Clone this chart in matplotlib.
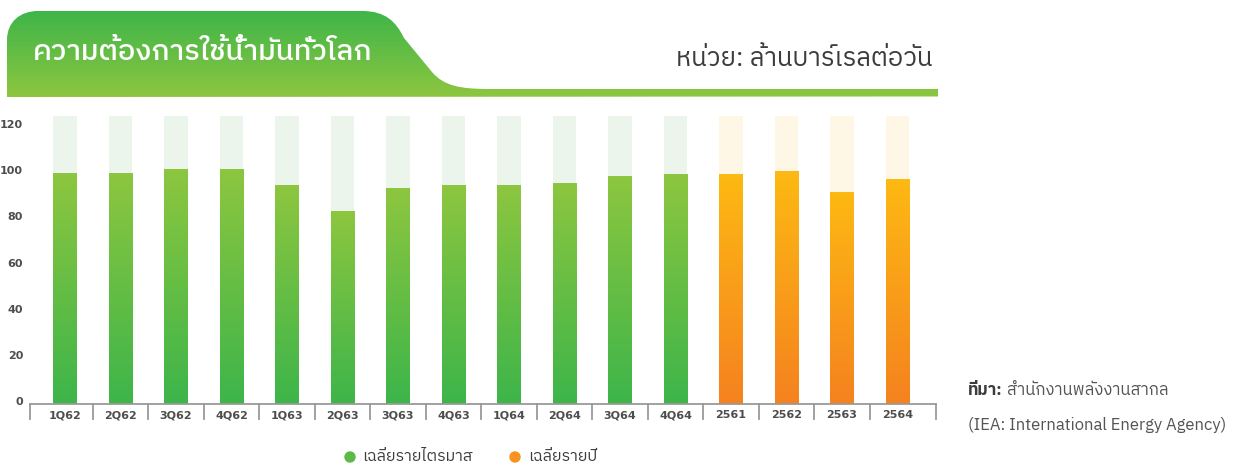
import matplotlib
matplotlib.use('Agg')
import matplotlib.pyplot as plt
import numpy as np
from matplotlib.path import Path
from matplotlib.patches import PathPatch, Circle
from matplotlib.colors import LinearSegmentedColormap
import matplotlib.transforms as mtransforms

# ---------------- data ----------------
quarter_labels = ['1Q62', '2Q62', '3Q62', '4Q62', '1Q63', '2Q63', '3Q63', '4Q63',
                  '1Q64', '2Q64', '3Q64', '4Q64']
quarter_values = [99.9, 99.9, 101.6, 101.6, 94.8, 83.5, 93.5, 94.8,
                  94.8, 95.7, 98.7, 99.5]
year_labels = ['2561', '2562', '2563', '2564']
year_values = [99.5, 100.8, 91.8, 97.3]
y_ticks = [0, 20, 40, 60, 80, 100, 120]
background_value = 124.6

title_text = 'ความต้องการใช้น้ำมันทั่วโลก'
unit_text = 'หน่วย: ล้านบาร์เรลต่อวัน'
source_bold = 'ที่มา:'
source_text = ' สำนักงานพลังงานสากล'
source_text2 = '(IEA: International Energy Agency)'
legend_labels = ['เฉลี่ยรายไตรมาส', 'เฉลี่ยรายปี']

FAM = ['IBM Plex Sans Thai', 'Noto Sans Thai', 'DejaVu Sans']

W, H = 1236, 465
fig = plt.figure(figsize=(W / 100, H / 100), dpi=100)

# overlay axes in pixel coordinates
ov = fig.add_axes([0, 0, 1, 1], zorder=0)
ov.set_xlim(0, W)
ov.set_ylim(H, 0)
ov.axis('off')

# banner shape
verts = [(7, 97), (7, 40), (7, 22), (20, 11), (38, 11), (362, 11),
         (386, 11), (396, 22), (404, 38), (432, 72),
         (444, 86), (460, 89), (490, 89), (938, 89), (938, 96.5), (7, 97), (7, 97)]
codes = [Path.MOVETO, Path.LINETO, Path.CURVE4, Path.CURVE4, Path.CURVE4, Path.LINETO,
         Path.CURVE4, Path.CURVE4, Path.CURVE4, Path.LINETO,
         Path.CURVE4, Path.CURVE4, Path.CURVE4, Path.LINETO, Path.LINETO, Path.LINETO,
         Path.CLOSEPOLY]
banner = PathPatch(Path(verts, codes), facecolor='none', edgecolor='none')
ov.add_patch(banner)
bcmap = LinearSegmentedColormap.from_list('b', ['#3db54a', '#8dc63f'])
grad = np.linspace(0, 1, 256).reshape(-1, 1)
im = ov.imshow(grad, cmap=bcmap, extent=[7, 938, 97, 11], origin='upper',
               aspect='auto', interpolation='bilinear')
im.set_clip_path(banner)
ov.set_xlim(0, W)
ov.set_ylim(H, 0)

ov.text(33, 52, title_text, color='white', fontsize=21, family=FAM,
        va='center', ha='left', fontweight='medium')
ov.text(932, 58, unit_text, color='#3c3c3c', fontsize=18.5, family=FAM,
        va='center', ha='right')

# source
t1 = ov.text(968, 390, source_bold, color='#3c3c3c', fontsize=12, family=FAM,
             va='center', ha='left', fontweight='bold')
fig.canvas.draw()
bb = t1.get_window_extent()
ov.text(968 + bb.width, 390, source_text, color='#555555', fontsize=12, family=FAM,
        va='center', ha='left')
ov.text(968, 425, source_text2, color='#555555', fontsize=12, family=FAM,
        va='center', ha='left')

# legend
ov.add_patch(Circle((350, 457), 5, color='#5cba47'))
ov.text(362, 456, legend_labels[0], color='#3c3c3c', fontsize=11.5, family=FAM,
        va='center', ha='left')
ov.add_patch(Circle((515, 457), 5, color='#f7931e'))
ov.text(528, 456, legend_labels[1], color='#3c3c3c', fontsize=11.5, family=FAM,
        va='center', ha='left')

# ---------------- chart axes ----------------
x0, x1 = 30, 936
y_base = 404
ppu = 2.31
ymax = 125
top_px = y_base - ymax * ppu
ax = fig.add_axes([x0 / W, (H - y_base) / H, (x1 - x0) / W, (y_base - top_px) / H], zorder=2)
ax.patch.set_alpha(0)

labels = quarter_labels + year_labels
values = quarter_values + year_values
n = len(labels)
xs = np.arange(n)
bw = 0.43

gcmap = LinearSegmentedColormap.from_list('g', ['#3db54a', '#8dc63f'])
ocmap = LinearSegmentedColormap.from_list('o', ['#f5821f', '#fdb913'])
for i, (x, v) in enumerate(zip(xs, values)):
    is_q = i < len(quarter_values)
    bgc = '#ebf5eb' if is_q else '#fef7e5'
    ax.bar(x, background_value, width=bw, color=bgc, zorder=1)
    rect = ax.bar(x, v, width=bw, color='none', zorder=2)[0]
    img = ax.imshow(grad, cmap=gcmap if is_q else ocmap,
                    extent=[x - bw / 2, x + bw / 2, 0, v], origin='lower',
                    aspect='auto', zorder=2, interpolation='bilinear')
    img.set_clip_path(rect)

xl0 = -(65 - x0) / 55.5
xl1 = xl0 + (x1 - x0) / 55.5
ax.set_xlim(xl0, xl1)
ax.set_ylim(0, ymax)

for s in ['top', 'right', 'left']:
    ax.spines[s].set_visible(False)
ax.spines['bottom'].set_color('#9a9a9a')
ax.spines['bottom'].set_linewidth(1.3)

ax.set_yticks(y_ticks)
ax.set_yticklabels([str(t) for t in y_ticks])
ax.tick_params(axis='y', length=0, pad=5, labelsize=8, labelcolor='#4d4d4d')
for lab in ax.get_yticklabels():
    lab.set_fontweight('bold')
    lab.set_transform(lab.get_transform() + mtransforms.ScaledTranslation(0, 2 / 72, fig.dpi_scale_trans))

ax.set_xticks([])
sep_h = 15 / ppu
seps = [xl0] + [i + 0.5 for i in range(n - 1)] + [xl1]
for s in seps:
    ax.plot([s, s], [0, -sep_h], color='#9a9a9a', lw=1.3, clip_on=False, zorder=3)
for x, lab in zip(xs, labels):
    ax.text(x, -11 / ppu, lab, ha='center', va='center', fontsize=8,
            fontweight='bold', color='#4d4d4d', clip_on=False)

fig.savefig('out.png', dpi=100)
